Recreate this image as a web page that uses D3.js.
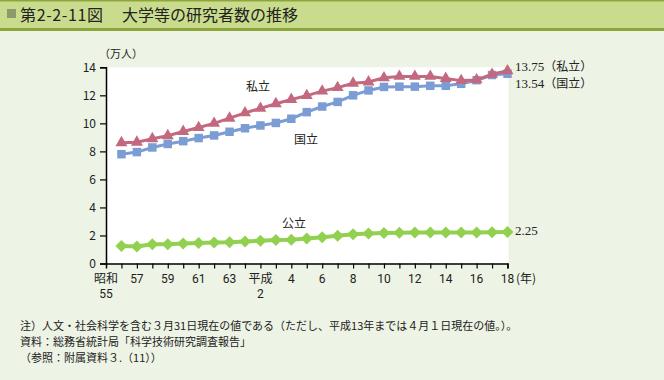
<!DOCTYPE html>
<html>
<head>
<meta charset="utf-8">
<script src="https://cdn.jsdelivr.net/npm/d3@7"></script>
<style>
  body { margin: 0; background: #edf3e5; }
  svg { display: block; }
  text { font-family: "Noto Sans CJK JP", "Noto Sans", sans-serif; fill: #222; }
  .num { font-family: "Liberation Serif", "DejaVu Serif", serif; }
</style>
</head>
<body>
<div id="chart"></div>
<script>
// years 昭和56 (1981) .. 平成18 (2006)
const years = d3.range(1981, 2007);
const shiritsu = [8.62, 8.65, 8.9, 9.12, 9.42, 9.7, 10.0, 10.37, 10.75, 11.07, 11.4, 11.7, 11.98,
  12.3, 12.55, 12.86, 12.95, 13.25, 13.35, 13.35, 13.35, 13.2, 13.05, 13.1, 13.5, 13.75];
const kokuritsu = [7.8, 7.95, 8.28, 8.53, 8.73, 8.95, 9.14, 9.4, 9.65, 9.85, 10.03, 10.33, 10.8,
  11.2, 11.53, 12.0, 12.35, 12.6, 12.62, 12.62, 12.68, 12.68, 12.82, 13.08, 13.45, 13.54];
const kouritsu = [1.24, 1.22, 1.37, 1.38, 1.43, 1.47, 1.5, 1.52, 1.57, 1.62, 1.67, 1.7, 1.78,
  1.87, 1.98, 2.09, 2.14, 2.18, 2.19, 2.21, 2.21, 2.22, 2.21, 2.22, 2.23, 2.25];
const tickYears = d3.range(1980, 2007, 2);
const tickLabels = ["昭和|55", "57", "59", "61", "63", "平成|2", "4", "6", "8", "10", "12", "14", "16", "18"];
const yTicks = [0, 2, 4, 6, 8, 10, 12, 14];
const notes = [
  "注）人文・社会科学を含む３月31日現在の値である（ただし、平成13年までは４月１日現在の値。）。",
  "資料：総務省統計局「科学技術研究調査報告」",
  "（参照：附属資料３.（11））"
];

const width = 664, height = 380;
const svg = d3.select('#chart').append('svg')
    .attr('width', width)
    .attr('height', height);

// header band
svg.append('rect').attr('x', 0).attr('y', 0).attr('width', width).attr('height', 30).attr('fill', '#c9dc8e');
svg.append('rect').attr('x', 0).attr('y', 0).attr('width', width).attr('height', 1.5).attr('fill', '#8da53a');
svg.append('rect').attr('x', 0).attr('y', 28).attr('width', width).attr('height', 3).attr('fill', '#8da53a');
svg.append('rect').attr('x', 7).attr('y', 9).attr('width', 9).attr('height', 9).attr('fill', '#8c9a6a');
svg.append('text').attr('x', 20).attr('y', 20.5).attr('font-size', 16)
    .attr('textLength', 83).attr('lengthAdjust', 'spacing').text('第2-2-11図');
svg.append('text').attr('x', 122).attr('y', 20.5).attr('font-size', 16).text('大学等の研究者数の推移');

const x = d3.scaleLinear().domain([1980, 2006]).range([106, 507.5]);
const y = d3.scaleLinear().domain([0, 14]).range([263.5, 67.3]);

// plot area
svg.append('rect')
    .attr('x', x(1980)).attr('y', y(14))
    .attr('width', x(2006) - x(1980) + 1).attr('height', y(0) - y(14))
    .attr('fill', '#fff');

// y axis
const yAxis = svg.append('g')
    .attr('transform', `translate(${x(1980)},0)`)
    .call(d3.axisLeft(y).tickValues(yTicks).tickSize(6).tickPadding(4).tickFormat(d3.format('d')));
yAxis.select('.domain').attr('stroke', '#000').attr('stroke-width', 1.5);
yAxis.selectAll('.tick line').attr('stroke', '#000').attr('stroke-width', 1.2);
yAxis.selectAll('.tick text').attr('font-size', 12).attr('font-family', 'Roboto, "Noto Sans", sans-serif').attr('fill', '#222');
svg.append('text').attr('x', 99).attr('y', 58).attr('font-size', 11).text('（万人）');

// x axis
const xAxis = svg.append('g')
    .attr('transform', `translate(0,${y(0)})`)
    .call(d3.axisBottom(x).tickValues(years).tickSize(5).tickFormat(''));
xAxis.select('.domain').attr('stroke', '#000').attr('stroke-width', 1.5);
xAxis.selectAll('.tick line').attr('stroke', '#000').attr('stroke-width', 1.2);

const xl = svg.append('g');
tickYears.forEach((yr, i) => {
  const parts = tickLabels[i].split('|');
  const t = xl.append('text')
      .attr('x', x(yr)).attr('y', 283)
      .attr('text-anchor', 'middle')
      .attr('font-size', 12);
  parts.forEach((p, j) => {
    t.append('tspan')
        .attr('x', x(yr))
        .attr('dy', j === 0 ? 0 : 15)
        .attr('font-family', /\d/.test(p) ? 'Roboto, "Noto Sans", sans-serif' : null)
        .text(p);
  });
});
svg.append('text').attr('x', 516).attr('y', 283).attr('font-size', 12).text('(年)');

// series
const line = d3.line().x((d, i) => x(years[i])).y(d => y(d));

function drawSeries(values, color, lw, symbol) {
  svg.append('path')
      .datum(values)
      .attr('fill', 'none')
      .attr('stroke', color)
      .attr('stroke-width', lw)
      .attr('d', line);
  svg.append('g').selectAll('path')
      .data(values)
      .enter().append('path')
      .attr('transform', (d, i) => `translate(${x(years[i])},${y(d)})`)
      .attr('d', symbol)
      .attr('fill', color);
}

const diamond = 'M0,-6L6,0L0,6L-6,0Z';
drawSeries(kouritsu, '#92d050', 4, diamond);
drawSeries(kokuritsu, '#7b9dd3', 3, d3.symbol().type(d3.symbolSquare).size(72)());
drawSeries(shiritsu, '#c4687f', 3, d3.symbol().type(d3.symbolTriangle).size(62)());

// series labels
svg.append('text').attr('x', 258).attr('y', 91).attr('text-anchor', 'middle').attr('font-size', 12).text('私立');
svg.append('text').attr('x', 306).attr('y', 144).attr('text-anchor', 'middle').attr('font-size', 12).text('国立');
svg.append('text').attr('x', 294).attr('y', 228).attr('text-anchor', 'middle').attr('font-size', 12).text('公立');

function endLabel(ypos, num, suffix) {
  const t = svg.append('text').attr('x', 515).attr('y', ypos).attr('font-size', 12);
  t.append('tspan').attr('class', 'num').attr('font-size', 13).text(num);
  if (suffix) t.append('tspan').text(suffix);
}
endLabel(71, '13.75', '（私立）');
endLabel(88, '13.54', '（国立）');
endLabel(235, '2.25', '');

// notes
notes.forEach((n, i) => {
  svg.append('text').attr('x', 20).attr('y', 330 + i * 16).attr('font-size', 11).text(n);
});
</script>
</body>
</html>
